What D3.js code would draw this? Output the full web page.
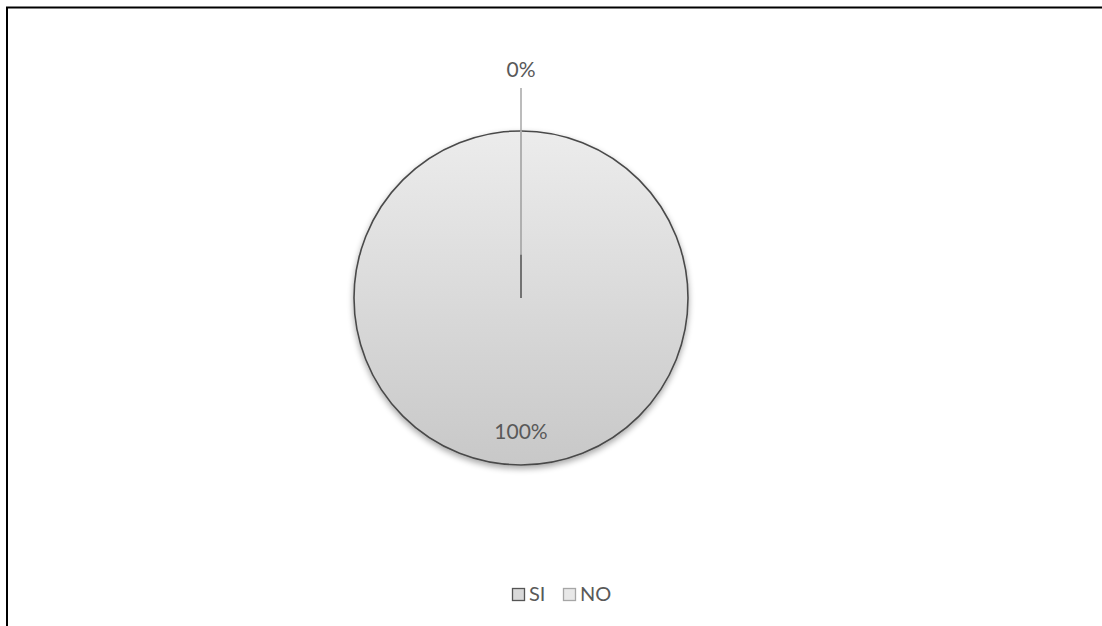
<!DOCTYPE html>
<html><head><meta charset="utf-8">
<script src="https://cdn.jsdelivr.net/npm/d3@7"></script>
<style>
html,body{margin:0;padding:0;background:#fff;}
svg{display:block;font-family:Lato,"Open Sans","Liberation Sans",sans-serif;}
</style></head>
<body>
<script>
const categories = ["SI", "NO"];
const values = [0, 100];
const labels = ["0%", "100%"];

const W = 1102, H = 626;
const svg = d3.select("body").append("svg").attr("width", W).attr("height", H);

// chart border
svg.append("path").attr("d", `M7,${H+5} V7.5 H${W+5}`).attr("fill","none").attr("stroke","#000").attr("stroke-width",2);

const defs = svg.append("defs");
const grad = defs.append("linearGradient").attr("id","g").attr("x1",0).attr("y1",0).attr("x2",0).attr("y2",1);
grad.append("stop").attr("offset","0%").attr("stop-color","#ececec");
grad.append("stop").attr("offset","100%").attr("stop-color","#c8c8c8");
const sh = defs.append("filter").attr("id","sh").attr("x","-20%").attr("y","-20%").attr("width","140%").attr("height","140%");
sh.append("feGaussianBlur").attr("in","SourceAlpha").attr("stdDeviation",3).attr("result","b");
sh.append("feOffset").attr("in","b").attr("dy",3).attr("result","o");
sh.append("feComponentTransfer").attr("in","o").attr("result","o2").append("feFuncA").attr("type","linear").attr("slope",0.35);
const m = sh.append("feMerge"); m.append("feMergeNode").attr("in","o2"); m.append("feMergeNode").attr("in","SourceGraphic");

const cx = 521, cy = 298, r = 167;
const g = svg.append("g").attr("transform",`translate(${cx},${cy})`);
const pie = d3.pie().sort(null).value(d => d)(values);
const arc = d3.arc().innerRadius(0).outerRadius(r);

g.selectAll("path.s").data(pie).join("path").attr("class","s")
  .attr("d", d => arc(d))
  .attr("fill","url(#g)")
  .attr("stroke", d => d.value > 0 ? "#4a4a4a" : "none")
  .attr("stroke-width",1.6)
  .attr("filter", d => d.value > 0 ? "url(#sh)" : null);

// zero slice edges, leader line and labels
pie.forEach((d,i) => {
  const a = (d.startAngle + d.endAngle)/2;
  const dx = Math.sin(a), dy = -Math.cos(a);
  if (d.value === 0) {
    g.append("line").attr("x1",0).attr("y1",0).attr("x2",dx*r).attr("y2",dy*r)
      .attr("stroke","#c4c4c4").attr("stroke-width",1.5);
    g.append("line").attr("x1",0).attr("y1",0).attr("x2",dx*r*0.26).attr("y2",dy*r*0.26)
      .attr("stroke","#555").attr("stroke-width",1.5);
    g.append("line").attr("x1",dx*r*0.26).attr("y1",dy*r*0.26).attr("x2",dx*(r+43)).attr("y2",dy*(r+43))
      .attr("stroke","#a6a6a6").attr("stroke-width",1.5);
    g.append("text").attr("x",dx*(r+60)).attr("y",dy*(r+60)+6).attr("text-anchor","middle")
      .attr("font-size",21).attr("fill","#595959").text(labels[i]);
  } else {
    g.append("text").attr("x",0).attr("y",r*0.845).attr("text-anchor","middle")
      .attr("font-size",21).attr("fill","#595959").text(labels[i]);
  }
});

// legend
const leg = svg.append("g");
const items = [{x:512, fill:"#d9d9d9", stroke:"#555"},{x:563, fill:"#e8e8e8", stroke:"#a6a6a6"}];
categories.forEach((c,i) => {
  leg.append("rect").attr("x",items[i].x+0.5).attr("y",588.5).attr("width",12).attr("height",12)
    .attr("fill",items[i].fill).attr("stroke",items[i].stroke).attr("stroke-width",1.3);
  leg.append("text").attr("x",items[i].x+17).attr("y",601).attr("font-size",20).attr("fill","#595959").text(c);
});
</script>
</body></html>
